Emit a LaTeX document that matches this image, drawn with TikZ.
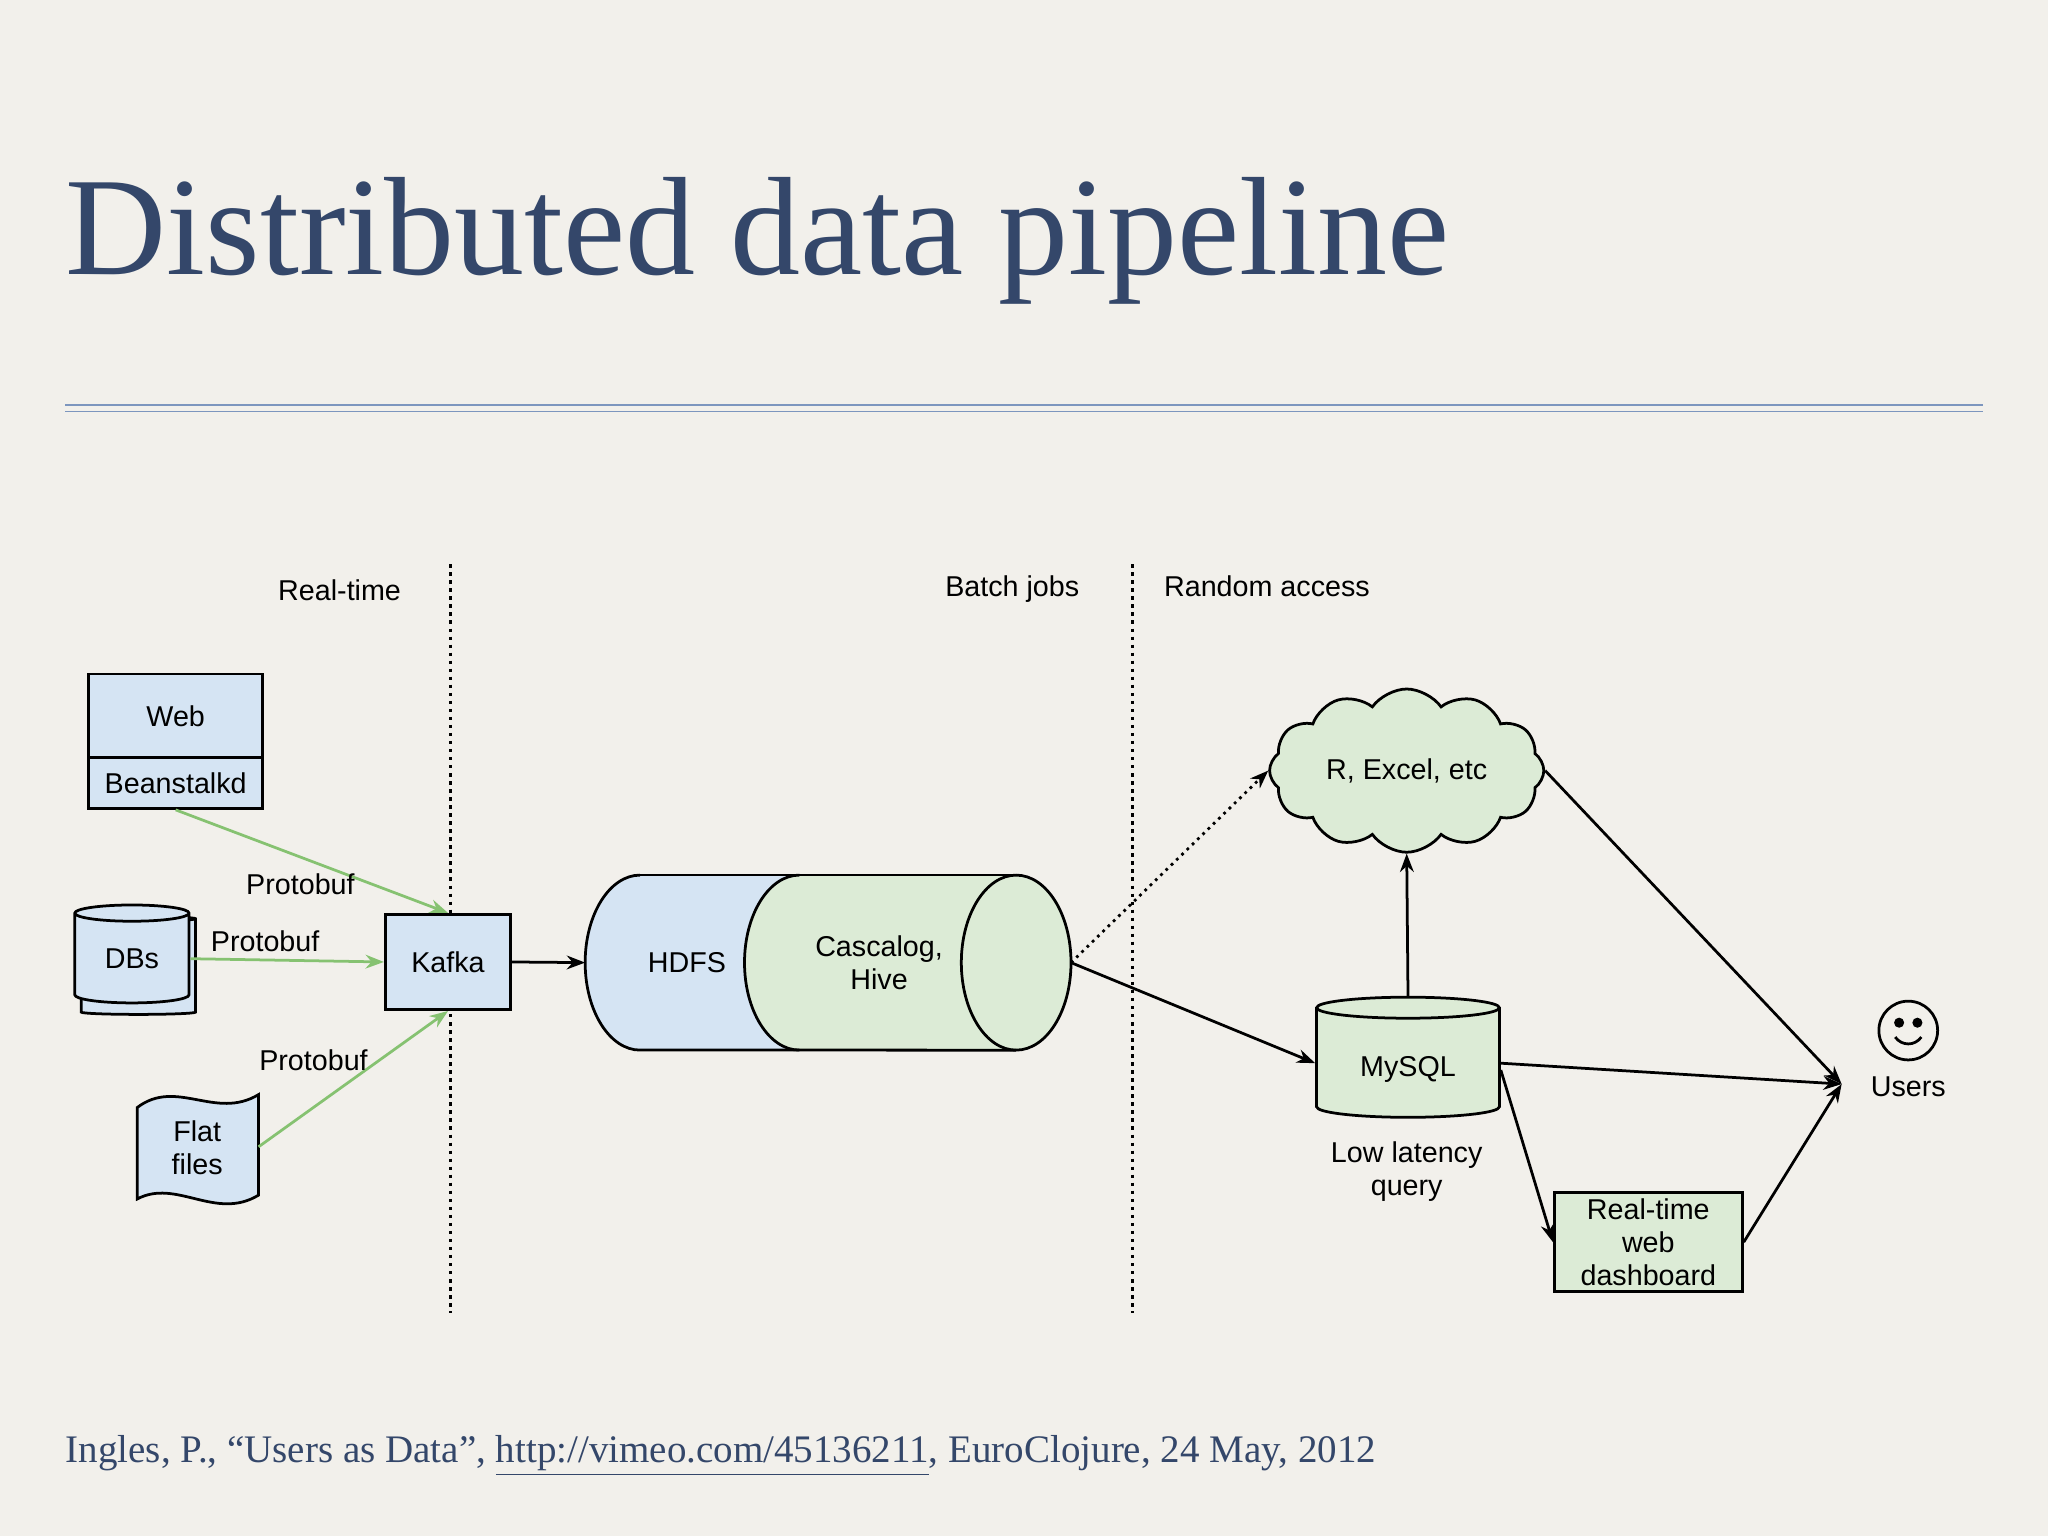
\documentclass[tikz,border=0pt]{standalone}
\usepackage{fontspec}
\setmainfont{Liberation Serif}
\setsansfont{Liberation Sans}
\usetikzlibrary{shapes.geometric,shapes.symbols,arrows.meta}
\definecolor{bg}{HTML}{F2F0EB}
\definecolor{ttl}{HTML}{34476A}
\definecolor{bfill}{HTML}{D5E4F3}
\definecolor{gfill}{HTML}{DCEBD6}
\definecolor{garrow}{HTML}{86C271}
\definecolor{rule}{HTML}{7D96BE}
\begin{document}
\begin{tikzpicture}[x=0.02cm,y=-0.02cm,
  lbl/.style={font=\sffamily\fontsize{12.5}{14.5}\selectfont,align=center,inner sep=0pt},
  box/.style={draw,line width=1.2pt,font=\sffamily\fontsize{12.5}{14.5}\selectfont,align=center,inner sep=0pt},
  blk/.style={-{Stealth[length=8pt,width=6pt]},line width=1.2pt},
  grn/.style={-{Stealth[length=8pt,width=6pt]},line width=1.2pt,draw=garrow}]
\fill[bg] (0,0) rectangle (1568,1176);
\useasboundingbox (0,0) rectangle (1568,1176);
\node[anchor=base west,text=ttl,inner sep=0pt,font=\fontsize{61}{63}\selectfont] (title) at (50,210) {Distributed data pipeline};
\draw[rule,line width=0.8pt] (50,310) -- (1518,310) (50,315) -- (1518,315);
% dividers
\draw[dotted,line width=1.5pt] (345,432) -- (345,1005);
\draw[dotted,line width=1.5pt] (867,432) -- (867,1005);
\node[lbl] (rt) at (260,452) {Real-time};
\node[lbl] (bj) at (775,451) {Batch jobs};
\node[lbl] (ra) at (970,449) {Random access};
% sources
\node[box,fill=bfill,minimum width=2.66cm,minimum height=1.28cm] (web) at (134.5,548) {Web};
\node[box,fill=bfill,minimum width=2.66cm,minimum height=0.78cm] (bean) at (134.5,599.5) {Beanstalkd};
\node[draw,line width=1.2pt,fill=bfill,cylinder,shape border rotate=90,aspect=0.3,minimum width=1.75cm,minimum height=1.5cm] (dbsback) at (106,741) {};
\node[box,fill=bfill,cylinder,shape border rotate=90,aspect=0.3,minimum width=1.75cm,minimum height=1.5cm] (dbs) at (101,734) {DBs};
\draw[line width=1.2pt,fill=bfill] (105,848) .. controls (135,825) and (165,858) .. (198,838) -- (198,915) .. controls (165,935) and (135,902) .. (105,918) -- cycle;
\node[lbl] (flat) at (151,879) {Flat\\files};
\node[box,fill=bfill,minimum width=1.92cm,minimum height=1.46cm] (kafka) at (343,736.5) {Kafka};
% HDFS cylinder
\fill[bfill] (490,670) arc[start angle=90,end angle=270,x radius=0.84cm,y radius=1.34cm] -- (612,804) arc[start angle=270,end angle=90,x radius=0.84cm,y radius=1.34cm] -- cycle;
\fill[gfill] (612,670) arc[start angle=90,end angle=270,x radius=0.84cm,y radius=1.34cm] -- (778,804) arc[start angle=270,end angle=450,x radius=0.84cm,y radius=1.34cm] -- cycle;
\draw[line width=1.2pt] (490,670) arc[start angle=90,end angle=270,x radius=0.84cm,y radius=1.34cm] -- (778,804);
\draw[line width=1.2pt] (490,670) -- (778,670);
\draw[line width=1.2pt] (612,670) arc[start angle=90,end angle=270,x radius=0.84cm,y radius=1.34cm];
\draw[line width=1.2pt] (778,737) ellipse[x radius=0.84cm,y radius=1.34cm];
\node[lbl] (hdfslbl) at (526,737) {HDFS};
\node[lbl] (casc) at (673,737) {Cascalog,\\Hive};
\coordinate (hdfsin) at (448,737);
\coordinate (hdfsout) at (820,737);
% random access
\node[box,fill=gfill,cloud,cloud puffs=12,cloud puff arc=110,aspect=1.7,minimum width=4.2cm,minimum height=2.5cm] (cloud) at (1077,590) {R, Excel, etc};
\node[box,fill=gfill,cylinder,shape border rotate=90,aspect=0.22,minimum width=2.8cm,minimum height=1.84cm] (mysql) at (1078,814) {\\MySQL};
\node[lbl] (low) at (1077,897) {Low latency\\query};
\node[box,fill=gfill,minimum width=2.88cm,minimum height=1.52cm] (dash) at (1262,951) {Real-time\\web\\dashboard};
\node[circle,draw,line width=1.2pt,minimum size=0.9cm,inner sep=0pt] (face) at (1461,789) {};
\fill (1454,783) circle[radius=2.2pt] (1468,783) circle[radius=2.2pt];
\draw[line width=1.2pt] (1451,794) .. controls (1456,801) and (1466,801) .. (1471,794);
\node[lbl] (users) at (1461,832) {Users};
\coordinate (uin) at (1410,830);
% arrows
\draw[grn] (bean.south) -- (kafka.north);
\node[lbl] (p1) at (230,677) {Protobuf};
\draw[grn] (dbs.east) -- (kafka.west);
\node[lbl] (p2) at (203,721) {Protobuf};
\draw[grn] (198,878) -- (kafka.south);
\node[lbl] (p3) at (240,812) {Protobuf};
\draw[blk] (kafka.east) -- (hdfsin);
\draw[blk,dotted] (hdfsout) -- (cloud.west);
\draw[blk] (hdfsout) -- (mysql.west);
\draw[blk] (mysql.north) -- (cloud.south);
\draw[blk] (cloud.east) -- (uin);
\draw[blk] (mysql.east) -- (uin);
\draw[blk] ([yshift=-3pt]mysql.east) -- (dash.west);
\draw[blk] (dash.east) -- (uin);
\node[anchor=base west,text=ttl,inner sep=0pt,font=\fontsize{17}{20}\selectfont] (foot) at (50,1120) {Ingles, P., “Users as Data”, \underline{http://vimeo.com/45136211}, EuroClojure, 24 May, 2012};
\end{tikzpicture}
\end{document}
